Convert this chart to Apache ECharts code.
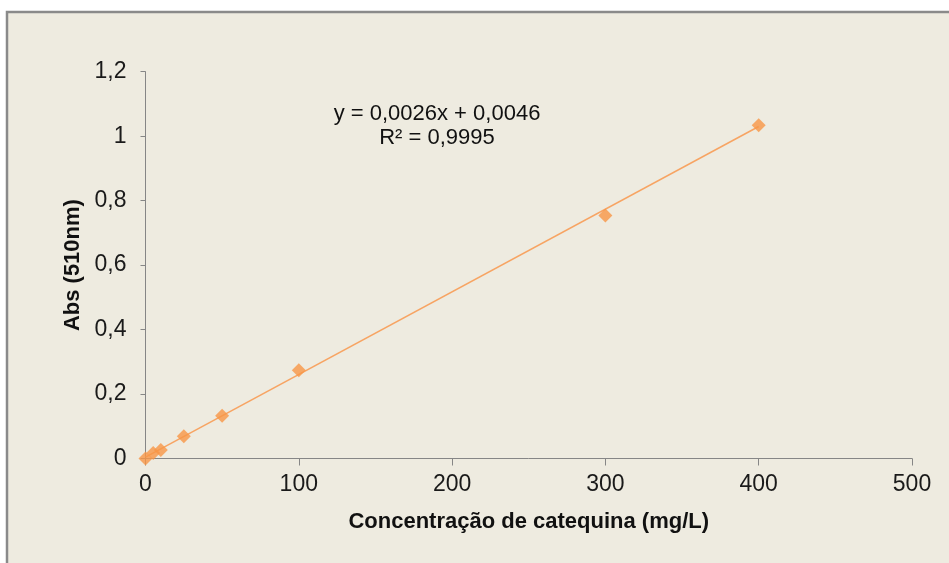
<!DOCTYPE html>
<html>
<head>
<meta charset="utf-8">
<style>
  html, body { margin: 0; padding: 0; background: #ffffff; }
  #chart { width: 949px; height: 563px; }
</style>
<script src="https://cdn.jsdelivr.net/npm/echarts@6/dist/echarts.min.js"></script>
</head>
<body>
<div id="chart"></div>
<script>
// Data
const concentrations = [0, 5, 10, 25, 50, 100, 300, 400];
const absorbances   = [0, 0.017, 0.026, 0.069, 0.133, 0.274, 0.754, 1.034];
// Trend line end points (linear fit shown on chart)
const trendX = [0, 400];
const trendY = [0.004, 1.03];
const equationLines = ['y = 0,0026x + 0,0046', 'R² = 0,9995'];
const xTicks = [0, 100, 200, 300, 400, 500];
const yTicks = [0, 0.2, 0.4, 0.6, 0.8, 1, 1.2];

const FONT = '"Liberation Sans", Arial, sans-serif';
const chart = echarts.init(document.getElementById('chart'), null, { renderer: 'canvas' });

const fmtComma = v => String(Math.round(v * 10) / 10).replace('.', ',');

chart.setOption({
  backgroundColor: '#ffffff',
  animation: false,
  graphic: [
    {
      type: 'rect', z: -10, silent: true,
      shape: { x: 7, y: 12, width: 1000, height: 600 },
      style: { fill: '#EEEBE0', stroke: '#8a8a8a', lineWidth: 2.5 }
    },
    {
      type: 'text', z: 10,
      x: 437, y: 126,
      style: {
        text: equationLines.join('\n'),
        font: '22px ' + FONT,
        fill: '#111111',
        align: 'center',
        verticalAlign: 'middle',
        lineHeight: 24
      }
    }
  ],
  grid: { left: 145.5, top: 71.7, right: 37, bottom: 104.5 },
  xAxis: {
    type: 'value',
    min: xTicks[0], max: xTicks[xTicks.length - 1], interval: 100,
    name: 'Concentração de catequina (mg/L)',
    nameLocation: 'middle',
    nameGap: 52,
    nameTextStyle: { fontFamily: FONT, fontSize: 22, fontWeight: 'bold', color: '#111111' },
    axisLine: { show: true, lineStyle: { color: '#868686', width: 1 } },
    axisTick: { show: true, inside: false, length: 7, lineStyle: { color: '#868686' } },
    axisLabel: { fontFamily: FONT, fontSize: 23, color: '#1a1a1a', margin: 15 },
    splitLine: { show: false }
  },
  yAxis: {
    type: 'value',
    min: yTicks[0], max: yTicks[yTicks.length - 1], interval: 0.2,
    name: 'Abs (510nm)',
    nameLocation: 'middle',
    nameGap: 62,
    nameTextStyle: { fontFamily: FONT, fontSize: 22, fontWeight: 'bold', color: '#111111' },
    axisLine: { show: true, lineStyle: { color: '#868686', width: 1 } },
    axisTick: { show: true, inside: false, length: 5, lineStyle: { color: '#868686' } },
    axisLabel: { fontFamily: FONT, fontSize: 23, color: '#1a1a1a', margin: 19, formatter: fmtComma },
    splitLine: { show: false }
  },
  series: [
    {
      type: 'line',
      data: trendX.map((x, i) => [x, trendY[i]]),
      showSymbol: false,
      symbol: 'none',
      lineStyle: { color: '#F7A463', width: 1.5 },
      z: 2,
      silent: true
    },
    {
      type: 'scatter',
      data: concentrations.map((x, i) => [x, absorbances[i]]),
      symbol: 'diamond',
      symbolSize: 14,
      itemStyle: { color: '#F79646' },
      z: 3
    }
  ]
});
</script>
</body>
</html>
